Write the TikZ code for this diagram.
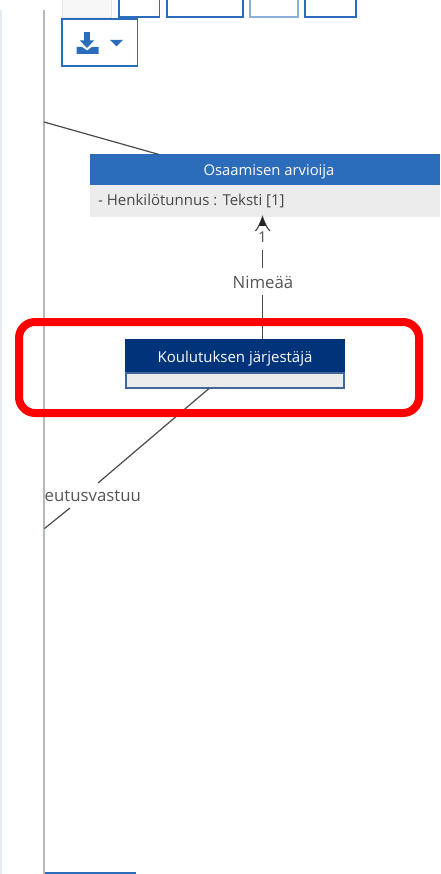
\documentclass[tikz,border=0pt]{standalone}
\usepackage{fontspec}
\setmainfont{Open Sans}
\definecolor{uiblue}{HTML}{2B6DBB}
\definecolor{navy}{HTML}{00347A}
\definecolor{compart}{HTML}{ECECEC}
\definecolor{linegray}{HTML}{4A4A4A}
\definecolor{railgray}{HTML}{B4B9BF}
\definecolor{edgelt}{HTML}{E6EBF0}
\definecolor{labelgray}{HTML}{555555}
\tikzset{
  px/.style={x=1pt,y=-1pt},
  toolbtn/.style={draw=uiblue,line width=1.3pt,fill=white},
  conn/.style={draw=linegray,line width=1.2pt},
  lbl/.style={font=\fontsize{16.8}{19}\selectfont,text=labelgray,inner sep=0pt},
  headtxt/.style={font=\fontsize{14.8}{17}\selectfont,text=white,inner sep=0pt},
  attr/.style={font=\fontsize{15}{17}\selectfont,text=black!72,inner sep=0pt,anchor=west},
}
\begin{document}
\begin{tikzpicture}[px]
\useasboundingbox (0,0) rectangle (440,874);
\fill[white] (0,0) rectangle (440,874);
\fill[edgelt] (0,10) rectangle (2,874);
\draw[railgray,line width=1.3pt] (44,10) -- (44,874);
% toolbar
\filldraw[draw=black!10,fill=black!3,line width=.8pt] (62,-2) rectangle (111,17);
\draw[toolbtn] (119,-2) rectangle (159.5,17);
\draw[toolbtn] (167,-2) rectangle (243,17);
\draw[toolbtn,draw=uiblue!55] (250,-2) rectangle (298,17);
\draw[toolbtn] (305,-2) rectangle (356,17);
\draw[toolbtn] (62,19) rectangle (137.5,66);
% download icon
\fill[uiblue] (84,32) rectangle (90,42);
\fill[uiblue] (80,40.5) -- (94,40.5) -- (87,48) -- cycle;
\fill[uiblue] (76.5,47) -- (82,47) -- (87,50.5) -- (92,47) -- (98.5,47) -- (98.5,54) -- (76.5,54) -- cycle;
\fill[uiblue] (110,40) -- (123,40) -- (116.5,46.5) -- cycle;
% classes
\fill[uiblue] (90,154) rectangle (440,185);
\fill[compart] (90,185) rectangle (440,217);
\node[headtxt] (arvHead) at (269,172) {Osaamisen arvioija};
\node[attr] (arvAttr) at (98,201) {- Henkilötunnus : Teksti [1]};
\coordinate (arvTarget) at (262.5,217);
\coordinate (arvTop) at (159,154.5);
\coordinate (leftTop) at (44,122);
\fill[navy] (125,339) rectangle (345,373);
\filldraw[draw=navy!75!white,fill=compart,line width=1.2pt] (126,373) rectangle (344,388);
\node[headtxt,font=\fontsize{15}{17}\selectfont] (korHead) at (235,359) {Koulutuksen järjestäjä};
\coordinate (korTop) at (262.5,339);
\coordinate (korBot) at (209,388.5);
\coordinate (leftBot) at (44.5,528.5);
% connectors
\draw[conn] (leftTop) -- (arvTop);
\node[lbl] (nimi) at (263,282) {Nimeää};
\node[lbl,font=\fontsize{15}{17}\selectfont] (mult) at (262.5,237) {1};
\coordinate (midGapLow) at (262.5,295);
\coordinate (midGapHigh) at (262.5,268);
\coordinate (midUp) at (262.5,250);
\draw[conn] (korTop) -- (midGapLow);
\draw[conn] (midGapHigh) -- (midUp);
\coordinate (wingL) at (255.5,231);
\coordinate (wingR) at (270,231);
\draw[conn] (wingL) .. controls (258,228) and (260,224) .. (arvTarget) .. controls (265,224) and (267,228) .. (wingR);
\fill[black!85] (arvTarget) -- (266,226) -- (259,226) -- cycle;
\node[lbl,anchor=west] (alue) at (44.5,496) {eutusvastuu};
\coordinate (gapA) at (98,483);
\coordinate (gapB) at (70,508);
\draw[conn] (korBot) -- (gapA);
\draw[conn] (gapB) -- (leftBot);
\fill[uiblue] (45,871.5) rectangle (136,874);
\draw[red,line width=8pt,rounded corners=16pt] (19,322) rectangle (419,413);
\end{tikzpicture}
\end{document}
